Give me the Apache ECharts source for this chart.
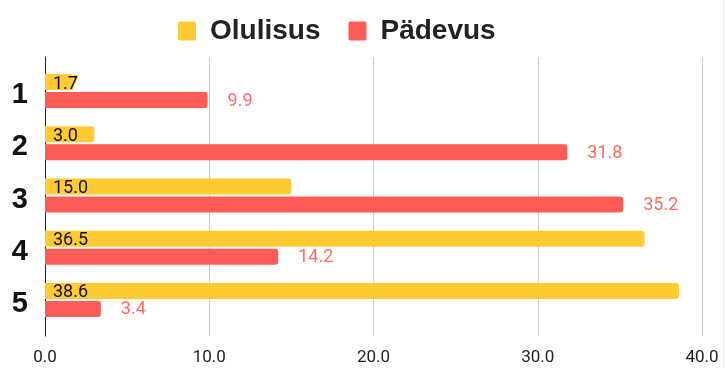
<!DOCTYPE html>
<html>
<head>
<meta charset="utf-8">
<script src="https://cdn.jsdelivr.net/npm/echarts@6/dist/echarts.min.js"></script>
<style>
  html, body { margin: 0; padding: 0; background: #fff; }
  #chart { width: 725px; height: 368px; }
</style>
</head>
<body>
<div id="chart"></div>
<script>
// Survey items and the two measured scores for each
const categories = ['1', '2', '3', '4', '5'];
const olulisus = [1.7, 3.0, 15.0, 36.5, 38.6];
const padevus = [9.9, 31.8, 35.2, 14.2, 3.4];
const seriesNames = ['Olulisus', 'Pädevus'];
const axisMax = 40;
const axisStep = 10;

const YELLOW = '#ffca32';
const RED = '#ff5c57';

// small square legend key with slightly rounded corners
const KEY_ICON = 'path://M2,0H16Q18,0 18,2V17Q18,19 16,19H2Q0,19 0,17V2Q0,0 2,0Z';

const chart = echarts.init(document.getElementById('chart'));

chart.setOption({
  animation: false,
  backgroundColor: '#fff',
  // faint frame edge on the right side of the canvas
  graphic: [{
    type: 'rect',
    right: 1,
    top: 0,
    shape: { width: 1, height: 368 },
    style: { fill: '#ececec' },
    silent: true
  }],
  legend: {
    left: 178,
    top: 17,
    padding: 0,
    itemWidth: 18,
    itemHeight: 19,
    itemGap: 28,
    icon: KEY_ICON,
    textStyle: {
      fontFamily: 'Liberation Sans',
      fontWeight: 'bold',
      fontSize: 28,
      color: '#222',
      padding: [0, 0, 0, 9]
    },
    data: seriesNames
  },
  grid: [
    // frame: gridlines, value labels and the left axis line
    { left: 45, right: 23, top: 57, bottom: 32 },
    // bars
    { left: 45, right: 23, top: 65, height: 261 }
  ],
  xAxis: [
    {
      gridIndex: 0,
      type: 'value',
      min: 0,
      max: axisMax,
      interval: axisStep,
      axisLine: { show: false },
      axisTick: { show: false },
      splitLine: { lineStyle: { color: '#cccccc', width: 1 } },
      axisLabel: {
        margin: 13,
        fontFamily: 'Roboto',
        fontSize: 17,
        color: '#222',
        formatter: v => v.toFixed(1)
      }
    },
    {
      gridIndex: 1,
      type: 'value',
      min: 0,
      max: axisMax,
      interval: axisStep,
      show: false
    }
  ],
  yAxis: [
    {
      gridIndex: 0,
      type: 'category',
      data: categories,
      axisLine: { show: true, lineStyle: { color: '#222', width: 1 } },
      axisTick: { show: false },
      axisLabel: { show: false },
      splitLine: { show: false }
    },
    {
      gridIndex: 1,
      type: 'category',
      data: categories,
      inverse: true,
      axisLine: { show: false },
      axisTick: { show: false },
      axisLabel: {
        margin: 17,
        fontFamily: 'Liberation Sans',
        fontWeight: 'bold',
        fontSize: 29,
        color: '#111',
        verticalAlign: 'top',
        lineHeight: 8
      }
    }
  ],
  series: [
    {
      name: seriesNames[0],
      type: 'bar',
      xAxisIndex: 1,
      yAxisIndex: 1,
      data: olulisus,
      barWidth: 16,
      barGap: '12.5%',
      itemStyle: { color: YELLOW, borderRadius: [0, 3, 3, 0] },
      label: {
        show: true,
        position: 'insideLeft',
        distance: 8,
        offset: [0, 2],
        fontFamily: 'Roboto',
        fontSize: 18,
        color: '#111',
        textBorderColor: YELLOW,
        textBorderWidth: 2,
        formatter: p => p.value.toFixed(1)
      }
    },
    {
      name: seriesNames[1],
      type: 'bar',
      xAxisIndex: 1,
      yAxisIndex: 1,
      data: padevus,
      barWidth: 16,
      itemStyle: { color: RED, borderRadius: [0, 3, 3, 0] },
      label: {
        show: true,
        position: 'right',
        distance: 20,
        offset: [0, 1],
        fontFamily: 'Roboto',
        fontSize: 18,
        color: '#ff6b66',
        formatter: p => p.value.toFixed(1)
      }
    }
  ]
});
</script>
</body>
</html>
